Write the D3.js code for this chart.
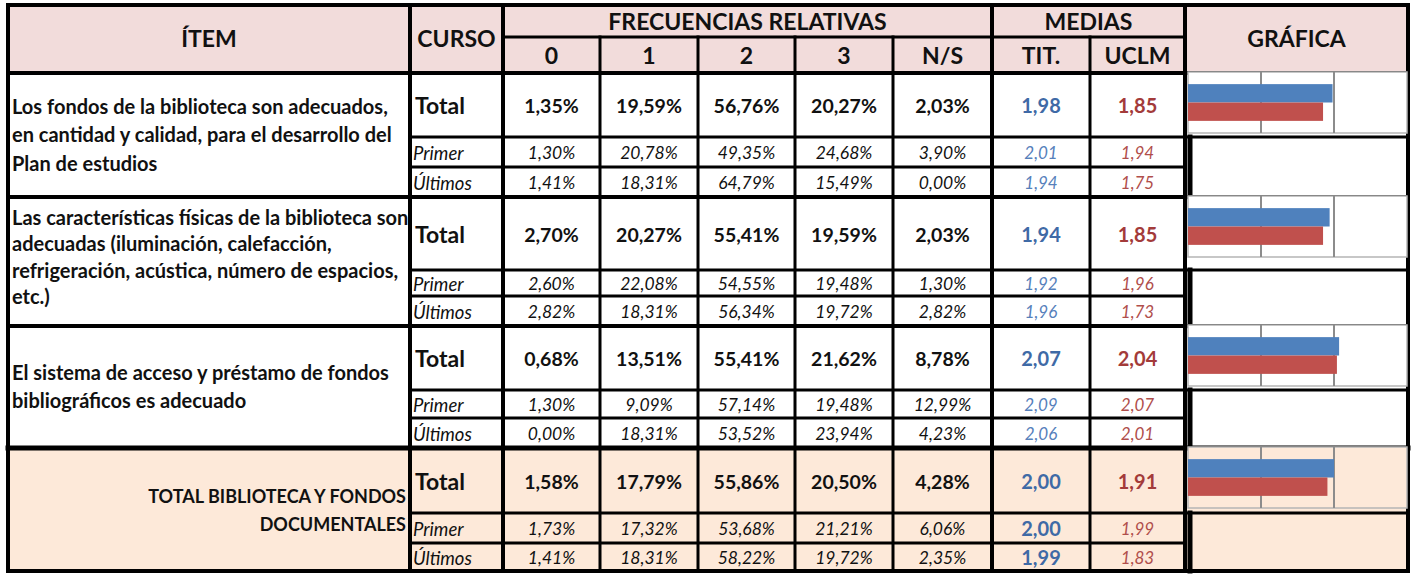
<!DOCTYPE html>
<html><head><meta charset="utf-8">
<script src="https://cdn.jsdelivr.net/npm/d3@7"></script>
<style>body{margin:0;background:#fff}svg{display:block}text{font-family:Lato,"Open Sans",sans-serif}</style>
</head><body><svg id="c" width="1411" height="574"></svg>
<script>
// ---------- DATA ----------
const itemLabels = [
  ["Los fondos de la biblioteca son adecuados,", "en cantidad y calidad, para el desarrollo del", "Plan de estudios"],
  ["Las características físicas de la biblioteca son", "adecuadas (iluminación, calefacción,", "refrigeración, acústica, número de espacios,", "etc.)"],
  ["El sistema de acceso y préstamo de fondos", "bibliográficos es adecuado"],
  ["TOTAL BIBLIOTECA Y FONDOS", "DOCUMENTALES"]
];
const cursoLabels = ["Total", "Primer", "Últimos"];
const freqHeaders = ["0", "1", "2", "3", "N/S"];
const mediaHeaders = ["TIT.", "UCLM"];
// rows: item1 Total/Primer/Últimos, item2 ..., item3 ..., total ...
const freq0  = [1.35, 1.30, 1.41,  2.70, 2.60, 2.82,  0.68, 1.30, 0.00,  1.58, 1.73, 1.41];
const freq1  = [19.59, 20.78, 18.31, 20.27, 22.08, 18.31, 13.51, 9.09, 18.31, 17.79, 17.32, 18.31];
const freq2  = [56.76, 49.35, 64.79, 55.41, 54.55, 56.34, 55.41, 57.14, 53.52, 55.86, 53.68, 58.22];
const freq3  = [20.27, 24.68, 15.49, 19.59, 19.48, 19.72, 21.62, 19.48, 23.94, 20.50, 21.21, 19.72];
const freqNS = [2.03, 3.90, 0.00,  2.03, 1.30, 2.82,  8.78, 12.99, 4.23,  4.28, 6.06, 2.35];
const mediaTit  = [1.98, 2.01, 1.94, 1.94, 1.92, 1.96, 2.07, 2.09, 2.06, 2.00, 2.00, 1.99];
const mediaUclm = [1.85, 1.94, 1.75, 1.85, 1.96, 1.73, 2.04, 2.07, 2.01, 1.91, 1.99, 1.83];
const chartDomain = [0, 3];
const chartTicks = [1, 2, 3];

// ---------- LAYOUT ----------
const svg = d3.select("#c");
const colEdges = [8, 410, 503, 600, 698, 795, 893, 992, 1090, 1185, 1408];
const hTop = 5, hMid = 37, hBot = 73;
const rowEdges = [73, 137, 167, 197, 270, 296, 326, 390, 418, 448, 513, 543, 571];
const nGroups = itemLabels.length;
const freqCols = [freq0, freq1, freq2, freq3, freqNS];
const colMid = i => (colEdges[i] + colEdges[i + 1]) / 2;
const rowTop = r => rowEdges[r], rowBot = r => rowEdges[r + 1];
const groupTop = g => rowEdges[g * 3], groupBot = g => rowEdges[g * 3 + 3];

const C = {
  header: "#f2dcdb", total: "#fde9d9", blue: "#4f81bd", red: "#c0504d",
  blueTxt: "#3f6aa6", redTxt: "#a33b3a", blueIt: "#5680bb", redIt: "#b04e4b", grid: "#8c8c8c"
};
const F = { header: 23, item: 20, itemTot: 18, total: 23, curso: 18.5, bold: 19.5, ital: 17.5, medBold: 20, medIt: 17 };
const fmtPct = v => d3.format(".2f")(v).replace(".", ",") + "%";
const fmtNum = v => d3.format(".2f")(v).replace(".", ",");

// ---------- BACKGROUNDS ----------
svg.append("rect").attr("x", colEdges[0]).attr("y", hTop).attr("width", colEdges[10] - colEdges[0]).attr("height", hBot - hTop).attr("fill", C.header);
svg.append("rect").attr("x", colEdges[0]).attr("y", groupTop(3)).attr("width", colEdges[10] - colEdges[0]).attr("height", groupBot(3) - groupTop(3)).attr("fill", C.total);

// ---------- HEADER TEXT ----------
const hdr = svg.append("g").attr("font-weight", "bold").attr("font-size", F.header).attr("text-anchor", "middle").attr("fill", "#111");
hdr.append("text").attr("x", colMid(0)).attr("y", (hTop + hBot) / 2).attr("dy", "0.36em").text("ÍTEM");
hdr.append("text").attr("x", colMid(1)).attr("y", (hTop + hBot) / 2).attr("dy", "0.36em").text("CURSO");
hdr.append("text").attr("x", (colEdges[2] + colEdges[7]) / 2).attr("y", (hTop + hMid) / 2 + 1).attr("dy", "0.36em").text("FRECUENCIAS RELATIVAS");
hdr.append("text").attr("x", (colEdges[7] + colEdges[9]) / 2).attr("y", (hTop + hMid) / 2 + 1).attr("dy", "0.36em").text("MEDIAS");
hdr.append("text").attr("x", colMid(9)).attr("y", (hTop + hBot) / 2).attr("dy", "0.36em").text("GRÁFICA");
freqHeaders.forEach((h, i) => hdr.append("text").attr("x", colMid(2 + i)).attr("y", (hMid + hBot) / 2 + 1).attr("dy", "0.36em").text(h));
mediaHeaders.forEach((h, i) => hdr.append("text").attr("x", colMid(7 + i)).attr("y", (hMid + hBot) / 2 + 1).attr("dy", "0.36em").text(h));

// ---------- ITEM TEXT ----------
itemLabels.forEach((lines, g) => {
  const isTot = g === nGroups - 1;
  const cy = (groupTop(g) + groupBot(g)) / 2 + (g === 1 ? -4 : (isTot ? 1 : 0));
  const sp = g === 1 ? 26.5 : 28.5;
  lines.forEach((ln, k) => {
    svg.append("text")
      .attr("x", isTot ? colEdges[1] - 4 : colEdges[0] + 4)
      .attr("y", cy + (k - (lines.length - 1) / 2) * sp)
      .attr("dy", "0.36em")
      .attr("text-anchor", isTot ? "end" : "start")
      .attr("font-weight", "bold").attr("font-size", isTot ? F.itemTot : F.item)
      .attr("fill", "#111").text(ln);
  });
});

// ---------- ROW CELLS ----------
for (let r = 0; r < nGroups * 3; r++) {
  const kind = r % 3; // 0 Total, 1 Primer, 2 Últimos
  const g = Math.floor(r / 3);
  const cy = (rowTop(r) + rowBot(r)) / 2;
  const isTotal = kind === 0;
  svg.append("text").attr("x", colEdges[1] + (isTotal ? 5 : 3)).attr("y", cy + 1).attr("dy", "0.36em")
    .attr("font-weight", isTotal ? "bold" : "normal").attr("font-style", isTotal ? "normal" : "italic")
    .attr("font-size", isTotal ? F.total : F.curso).attr("fill", "#111").text(cursoLabels[kind]);
  freqCols.forEach((arr, i) => {
    svg.append("text").attr("x", colMid(2 + i)).attr("y", cy + 1).attr("dy", "0.36em").attr("text-anchor", "middle")
      .attr("font-weight", isTotal ? "bold" : "normal").attr("font-style", isTotal ? "normal" : "italic")
      .attr("font-size", isTotal ? F.bold : F.ital).attr("fill", "#111").text(fmtPct(arr[r]));
  });
  const titBold = isTotal || g === nGroups - 1;
  svg.append("text").attr("x", colMid(7)).attr("y", cy + 1).attr("dy", "0.36em").attr("text-anchor", "middle")
    .attr("font-weight", titBold ? "bold" : "normal").attr("font-style", titBold ? "normal" : "italic")
    .attr("font-size", titBold ? F.medBold : F.medIt).attr("fill", titBold ? C.blueTxt : C.blueIt).text(fmtNum(mediaTit[r]));
  svg.append("text").attr("x", colMid(8)).attr("y", cy + 1).attr("dy", "0.36em").attr("text-anchor", "middle")
    .attr("font-weight", isTotal ? "bold" : "normal").attr("font-style", isTotal ? "normal" : "italic")
    .attr("font-size", isTotal ? F.medBold : F.medIt).attr("fill", isTotal ? C.redTxt : C.redIt).text(fmtNum(mediaUclm[r]));
}

// ---------- GRID LINES ----------
const L = svg.append("g").attr("stroke", "#000").attr("stroke-linecap", "square");
const hline = (y, x1, x2, w) => L.append("line").attr("x1", x1).attr("x2", x2).attr("y1", y).attr("y2", y).attr("stroke-width", w);
const vline = (x, y1, y2, w) => L.append("line").attr("x1", x).attr("x2", x).attr("y1", y1).attr("y2", y2).attr("stroke-width", w);
hline(hMid, colEdges[2], colEdges[9], 3);
[3, 4, 5, 6, 8].forEach(i => vline(colEdges[i], hMid, rowEdges[12], 3));
[1, 2, 7, 9].forEach(i => vline(colEdges[i], hTop, rowEdges[12], 4));
for (let g = 0; g < nGroups; g++) {
  hline(rowEdges[g * 3 + 1], colEdges[1], colEdges[10], 3);
  hline(rowEdges[g * 3 + 2], colEdges[1], colEdges[9], 3);
  vline(colEdges[9] + 5, rowEdges[g * 3 + 1], rowEdges[g * 3 + 3], 5);
}
[3, 6, 9].forEach(k => hline(rowEdges[k], colEdges[0], colEdges[10], k === 9 ? 5 : 4));
hline(hBot, colEdges[0], colEdges[10], 4);
L.append("rect").attr("x", colEdges[0]).attr("y", hTop).attr("width", colEdges[10] - colEdges[0]).attr("height", rowEdges[12] - hTop)
  .attr("fill", "none").attr("stroke-width", 4);

// ---------- CHARTS ----------
const x = d3.scaleLinear().domain(chartDomain).range([colEdges[9] + 3, colEdges[10] - 1]);
for (let g = 0; g < nGroups; g++) {
  const r = g * 3;
  const top = rowTop(r) - 1, h = 61;
  const y = d3.scaleBand().domain(["tit", "uclm"]).range([top, top + h]).paddingInner(0).paddingOuter(0.66);
  const ch = svg.append("g");
  ch.append("rect").attr("x", x(0)).attr("y", top).attr("width", x(3) - x(0)).attr("height", h)
    .attr("fill", g === nGroups - 1 ? C.total : "#fff").attr("stroke", "#b5b5b5").attr("stroke-width", 1.5);
  ch.selectAll("line.grid").data(chartTicks.slice(0, 2)).join("line")
    .attr("x1", d => x(d)).attr("x2", d => x(d)).attr("y1", top).attr("y2", top + h)
    .attr("stroke", C.grid).attr("stroke-width", 2);
  const vals = [{k: "tit", v: mediaTit[r], c: C.blue}, {k: "uclm", v: mediaUclm[r], c: C.red}];
  ch.selectAll("rect.bar").data(vals).join("rect")
    .attr("x", x(0)).attr("y", d => y(d.k)).attr("width", d => x(d.v) - x(0)).attr("height", y.bandwidth())
    .attr("fill", d => d.c);
}
</script></body></html>
